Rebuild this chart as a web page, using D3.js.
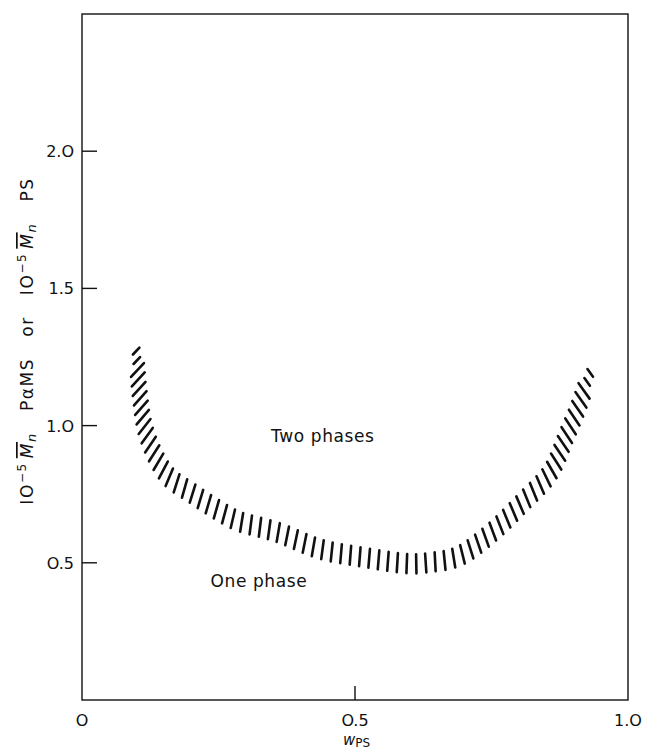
<!DOCTYPE html>
<html>
<head>
<meta charset="utf-8">
<script src="https://cdn.jsdelivr.net/npm/d3@7"></script>
<style>
  body { margin: 0; background: #fff; }
  text { font-family: "DejaVu Sans", "Noto Sans", sans-serif; fill: #111; }
</style>
</head>
<body>
<div id="chart"></div>
<script>
// boundary of the two-phase region (center of the hatched band)
var wPS = [0.099, 0.106, 0.119, 0.156, 0.201, 0.258, 0.286, 0.357, 0.436, 0.513,
           0.604, 0.643, 0.668, 0.698, 0.756, 0.808, 0.857, 0.888, 0.907, 0.932];
var mn = [1.279, 1.111, 0.966, 0.820, 0.754, 0.681, 0.652, 0.612, 0.550, 0.521,
          0.496, 0.503, 0.510, 0.532, 0.620, 0.722, 0.827, 0.966, 1.057, 1.199];

var xTicks = [0, 0.5, 1.0];
var xTickLabels = ["O", "O.5", "1.O"];
var yTicks = [0.5, 1.0, 1.5, 2.0];
var yTickLabels = ["O.5", "1.O", "1.5", "2.O"];

var regionLabels = [
  { text: "Two phases", w: 0.441, m: 0.94 },
  { text: "One phase", w: 0.324, m: 0.41 }
];

var width = 647, height = 755;
var margin = { top: 14, right: 19, bottom: 55, left: 82 };

var svg = d3.select("#chart").append("svg")
    .attr("width", width)
    .attr("height", height);

var x = d3.scaleLinear().domain([0, 1]).range([margin.left, width - margin.right]);
var y = d3.scaleLinear().domain([0, 2.5]).range([height - margin.bottom, margin.top]);

// frame
svg.append("rect")
    .attr("x", x(0)).attr("y", y(2.5))
    .attr("width", x(1) - x(0)).attr("height", y(0) - y(2.5))
    .attr("fill", "none").attr("stroke", "#111").attr("stroke-width", 1.4);

// y ticks (inward)
yTicks.forEach(function (t, i) {
    svg.append("line")
        .attr("x1", x(0)).attr("x2", x(0) + 15)
        .attr("y1", y(t)).attr("y2", y(t))
        .attr("stroke", "#111").attr("stroke-width", 1.4);
    svg.append("text")
        .attr("x", x(0) - 8).attr("y", y(t) + 6)
        .attr("text-anchor", "end")
        .attr("font-size", 16)
        .text(yTickLabels[i]);
});

// x ticks
xTicks.forEach(function (t, i) {
    if (t > 0 && t < 1) {
        svg.append("line")
            .attr("x1", x(t)).attr("x2", x(t))
            .attr("y1", y(0)).attr("y2", y(0) - 14)
            .attr("stroke", "#111").attr("stroke-width", 1.4);
    }
    svg.append("text")
        .attr("x", x(t)).attr("y", y(0) + 26)
        .attr("text-anchor", "middle")
        .attr("font-size", 16)
        .text(xTickLabels[i]);
});

// x axis label: w_PS
var xl = svg.append("text")
    .attr("x", x(0.5) - 12).attr("y", y(0) + 45)
    .attr("font-size", 15);
xl.append("tspan").attr("font-style", "italic").text("w");
xl.append("tspan").attr("dy", 2).attr("font-size", 12).text("PS");

// y axis label (rotated)
var yl = svg.append("text")
    .attr("transform", "translate(33,341) rotate(-90)")
    .attr("text-anchor", "middle")
    .attr("font-size", 17)
    .attr("letter-spacing", 1.6);
yl.append("tspan").text("IO");
yl.append("tspan").attr("dy", -7).attr("font-size", 12).text("−5");
yl.append("tspan").attr("dy", 7).attr("dx", 4).attr("font-style", "italic")
    .attr("text-decoration", "overline").text("M");
yl.append("tspan").attr("dy", 3).attr("font-style", "italic").attr("font-size", 13).text("n");
yl.append("tspan").attr("dy", -3).attr("xml:space", "preserve").text("   PαMS   or   IO");
yl.append("tspan").attr("dy", -7).attr("font-size", 12).text("−5");
yl.append("tspan").attr("dy", 7).attr("dx", 4).attr("font-style", "italic")
    .attr("text-decoration", "overline").text("M");
yl.append("tspan").attr("dy", 3).attr("font-style", "italic").attr("font-size", 13).text("n");
yl.append("tspan").attr("dy", -3).attr("xml:space", "preserve").text("   PS");

// region labels
regionLabels.forEach(function (d) {
    svg.append("text")
        .attr("x", x(d.w)).attr("y", y(d.m))
        .attr("text-anchor", "middle")
        .attr("font-size", 17)
        .attr("letter-spacing", 0.6)
        .text(d.text);
});

// hatched boundary band: short strokes along the curve
var pts = wPS.map(function (w, i) { return [x(w), y(mn[i])]; });
var line = d3.line().curve(d3.curveCatmullRom.alpha(0.5));
var guide = svg.append("path")
    .attr("d", line(pts))
    .attr("fill", "none").attr("stroke", "none");

var node = guide.node();
var total = node.getTotalLength();
var step = 9.5, half = 9.5;
var hatch = svg.append("g");
for (var s = 2; s <= total - 1; s += step) {
    var p = node.getPointAtLength(s);
    var p0 = node.getPointAtLength(Math.max(0, s - 2));
    var p1 = node.getPointAtLength(Math.min(total, s + 2));
    var tx = p1.x - p0.x, ty = p1.y - p0.y;
    var len = Math.sqrt(tx * tx + ty * ty);
    tx /= len; ty /= len;
    var nx = ty, ny = -tx;
    var phi = Math.atan2(Math.abs(ny), Math.abs(nx));
    var psi = Math.PI / 4 + phi / 2;
    var sx = nx >= 0 ? 1 : -1;
    var dx = sx * Math.cos(psi), dy = -Math.sin(psi);
    var h = half;
    if (s < 12 || s > total - 12) h = half * 0.5;
    hatch.append("line")
        .attr("x1", p.x - dx * h).attr("y1", p.y - dy * h)
        .attr("x2", p.x + dx * h).attr("y2", p.y + dy * h)
        .attr("stroke", "#111")
        .attr("stroke-width", 2.6)
        .attr("stroke-linecap", "round");
}
</script>
</body>
</html>
